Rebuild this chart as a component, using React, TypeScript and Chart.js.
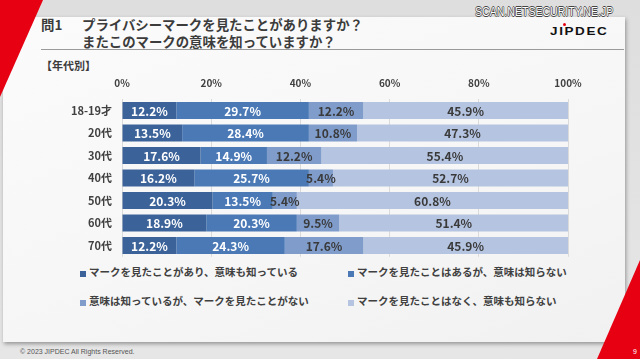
import React, { useEffect, useRef } from "react";
import { Chart, registerables } from "chart.js";

Chart.register(...registerables);

const categories = ["18-19才", "20代", "30代", "40代", "50代", "60代", "70代"];
const seriesNames = [
  "マークを見たことがあり、意味も知っている",
  "マークを見たことはあるが、意味は知らない",
  "意味は知っているが、マークを見たことがない",
  "マークを見たことはなく、意味も知らない",
];
const seenAndKnow = [12.2, 13.5, 17.6, 16.2, 20.3, 18.9, 12.2];
const seenNotKnow = [29.7, 28.4, 14.9, 25.7, 13.5, 20.3, 24.3];
const knowNotSeen = [12.2, 10.8, 12.2, 5.4, 5.4, 9.5, 17.6];
const neither = [45.9, 47.3, 55.4, 52.7, 60.8, 51.4, 45.9];
const seriesValues = [seenAndKnow, seenNotKnow, knowNotSeen, neither];
const seriesColors = ["#3c6399", "#4a79b6", "#7f9ccb", "#b5c4e0"];
const labelColors = ["#ffffff", "#ffffff", "#3a3a3a", "#3a3a3a"];
const tickValues = [0, 20, 40, 60, 80, 100];

const JP = '"Noto Sans CJK JP", "Noto Sans", sans-serif';

const dataLabelPlugin = {
  id: "segLabels",
  afterDatasetsDraw(chart: any) {
    const ctx = chart.ctx;
    ctx.save();
    ctx.font = `bold 12px ${JP}`;
    ctx.textAlign = "center";
    ctx.textBaseline = "middle";
    chart.data.datasets.forEach((ds: any, di: number) => {
      const meta = chart.getDatasetMeta(di);
      meta.data.forEach((el: any, i: number) => {
        const c = el.getCenterPoint();
        ctx.fillStyle = labelColors[di];
        ctx.fillText(ds.data[i].toFixed(1) + "%", c.x, c.y + 0.5);
      });
    });
    ctx.restore();
  },
};

export default function App() {
  const ref = useRef<HTMLCanvasElement>(null);
  useEffect(() => {
    document.body.style.margin = "0";
    const chart = new Chart(ref.current as HTMLCanvasElement, {
      type: "bar",
      data: {
        labels: categories,
        datasets: seriesValues.map((vals, i) => ({
          label: seriesNames[i],
          data: vals,
          backgroundColor: seriesColors[i],
          borderWidth: 0,
          barPercentage: 0.76,
          categoryPercentage: 1,
        })),
      },
      options: {
        indexAxis: "y",
        animation: false,
        responsive: false,
        devicePixelRatio: 1,
        layout: { padding: { left: 0, top: 0, right: 72, bottom: 102.25 } },
        plugins: { legend: { display: false }, tooltip: { enabled: false } },
        scales: {
          x: {
            position: "top",
            stacked: true,
            min: 0,
            max: 100,
            afterBuildTicks: (scale: any) => {
              scale.ticks = tickValues.map((v) => ({ value: v }));
            },
            afterFit: (scale: any) => {
              scale.height = 99.25;
            },
            grid: { color: "#dadada", lineWidth: 1, drawTicks: false },
            border: { display: false },
            ticks: {
              padding: 10,
              color: "#404040",
              font: { family: JP, size: 10, weight: "bold" },
              callback: (v: any) => v + "%",
            },
          },
          y: {
            stacked: true,
            afterFit: (scale: any) => {
              scale.width = 122;
            },
            grid: { display: false, drawTicks: false },
            border: { display: false },
            ticks: {
              padding: 10,
              color: "#404040",
              font: { family: JP, size: 11, weight: "bold" },
            },
          },
        },
      },
      plugins: [dataLabelPlugin],
    } as any);
    return () => chart.destroy();
  }, []);

  const legendPos = [
    { x: 80, y: 272 },
    { x: 348, y: 272 },
    { x: 80, y: 301 },
    { x: 348, y: 301 },
  ];

  return (
    <div
      style={{
        position: "fixed",
        left: 0,
        top: 0,
        width: 640,
        height: 359,
        overflow: "hidden",
        background: "linear-gradient(180deg, #dedede 0%, #e6e6e6 100%)",
        fontFamily: JP,
      }}
    >
      {/* card */}
      <div
        style={{
          position: "absolute",
          left: 3,
          top: 17,
          width: 622,
          height: 325,
          background: "linear-gradient(160deg, #fbfbfb 0%, #f6f6f6 60%, #f1f1f1 100%)",
          boxShadow: "1px 2px 4px rgba(0,0,0,0.35)",
        }}
      />
      {/* red triangles */}
      <div
        style={{
          position: "absolute",
          left: 0,
          top: 0,
          width: 640,
          height: 359,
          background: "#e60012",
          clipPath: "polygon(0px 0px, 43px 0px, 0px 97px)",
        }}
      />
      <div
        style={{
          position: "absolute",
          left: 0,
          top: 0,
          width: 640,
          height: 359,
          background: "#e60012",
          clipPath: "polygon(640px 260px, 640px 359px, 597px 359px)",
        }}
      />
      {/* watermark */}
      <div
        style={{
          position: "absolute",
          left: 475,
          top: 5,
          fontFamily: '"Liberation Sans", Arial, sans-serif',
          fontSize: 12,
          color: "#ffffff",
          whiteSpace: "nowrap",
          transformOrigin: "0 0",
          transform: "scaleX(0.88)",
          textShadow:
            "0.7px 0 0 #444, -0.7px 0 0 #444, 0 0.7px 0 #444, 0 -0.7px 0 #444",
        }}
      >
        SCAN.NETSECURITY.NE.JP
      </div>
      {/* logo */}
      <div
        style={{
          position: "absolute",
          left: 550,
          top: 26.5,
          fontFamily: '"Liberation Sans", Arial, sans-serif',
          fontWeight: "bold",
          fontSize: 10,
          letterSpacing: 1.2,
          color: "#111",
          whiteSpace: "nowrap",
          lineHeight: "10px",
          transformOrigin: "0 0",
          transform: "scaleX(1.35)",
        }}
      >
        JIPDEC
      </div>
      <div
        style={{
          position: "absolute",
          left: 562.5,
          top: 22.5,
          width: 3.5,
          height: 3.5,
          borderRadius: 2,
          background: "#e60012",
        }}
      />
      {/* title */}
      <div
        style={{
          position: "absolute",
          left: 41,
          top: 16,
          fontSize: 13.4,
          fontWeight: "bold",
          color: "#3c3c3c",
          lineHeight: "17px",
          whiteSpace: "nowrap",
        }}
      >
        <div>
          <span style={{ display: "inline-block", width: 41 }}>問1</span>
          プライバシーマークを見たことがありますか？
        </div>
        <div style={{ paddingLeft: 41 }}>またこのマークの意味を知っていますか？</div>
      </div>
      <div
        style={{
          position: "absolute",
          left: 41,
          top: 48.5,
          width: 583,
          height: 1.5,
          background: "#9a9a9a",
        }}
      />
      <div
        style={{
          position: "absolute",
          left: 41,
          top: 57,
          fontSize: 11,
          fontWeight: "bold",
          color: "#3c3c3c",
          lineHeight: "16px",
          whiteSpace: "nowrap",
        }}
      >
        【年代別】
      </div>
      {/* legend */}
      {seriesNames.map((name, i) => (
        <div
          key={name}
          style={{
            position: "absolute",
            left: legendPos[i].x,
            top: legendPos[i].y - 8,
            height: 16,
            display: "flex",
            alignItems: "center",
            whiteSpace: "nowrap",
          }}
        >
          <div
            style={{
              width: 6,
              height: 6,
              background: seriesColors[i],
              marginTop: 4,
              marginRight: 3,
            }}
          />
          <span
            style={{
              fontSize: 10.5,
              fontWeight: "bold",
              color: "#404040",
              lineHeight: "16px",
            }}
          >
            {name}
          </span>
        </div>
      ))}
      {/* footer */}
      <div
        style={{
          position: "absolute",
          left: 20,
          top: 347,
          fontFamily: '"Liberation Sans", Arial, sans-serif',
          fontSize: 7,
          color: "#555",
          whiteSpace: "nowrap",
          lineHeight: "9px",
        }}
      >
        © 2023 JIPDEC All Rights Reserved.
      </div>
      <div
        style={{
          position: "absolute",
          left: 633,
          top: 347,
          fontFamily: '"Liberation Sans", Arial, sans-serif',
          fontSize: 7,
          color: "#fff",
          lineHeight: "9px",
        }}
      >
        9
      </div>
      <canvas
        ref={ref}
        width={640}
        height={359}
        style={{ position: "absolute", left: 0, top: 0, width: 640, height: 359 }}
      />
    </div>
  );
}
